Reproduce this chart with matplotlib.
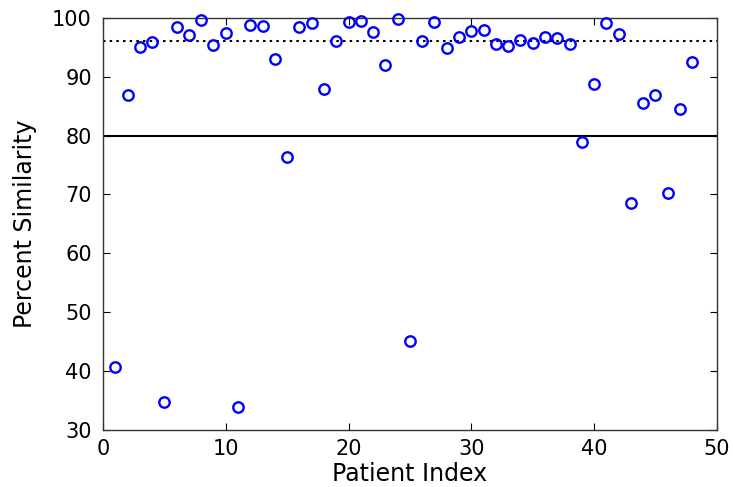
import matplotlib
matplotlib.use("Agg")
import matplotlib.pyplot as plt
import numpy as np

patient_index = list(range(1, 49))
similarity = [40.6, 86.9, 95.1, 95.9, 34.7, 98.5, 97.1, 99.7, 95.4, 97.4,
              33.8, 98.8, 98.6, 93.0, 76.4, 98.5, 99.1, 87.9, 96.1, 99.3,
              99.5, 97.6, 92.0, 99.8, 45.1, 96.1, 99.3, 94.9, 96.8, 97.8,
              98.0, 95.6, 95.2, 96.3, 95.7, 96.8, 96.6, 95.6, 78.9, 88.8,
              99.1, 97.3, 68.5, 85.5, 86.9, 70.2, 84.5, 92.5]
threshold_solid = 80
threshold_dotted = 96.1
xticks = [0, 10, 20, 30, 40, 50]
yticks = [30, 40, 50, 60, 70, 80, 90, 100]

plt.rcParams['font.family'] = ['DejaVu Sans']
fig = plt.figure(figsize=(7.33, 4.87), dpi=100)
ax = fig.add_axes([0.1405, 0.118, 0.8375, 0.845])
ax.plot(patient_index, similarity, linestyle='none', marker='o', markersize=7.5,
        markerfacecolor='none', markeredgecolor='#0000ff', markeredgewidth=1.7,
        clip_on=False, zorder=3)
ax.axhline(threshold_solid, color='black', linewidth=1.5)
ax.axhline(threshold_dotted, color='black', linewidth=1.5, linestyle=(0, (1.2, 2)))
ax.set_xlim(0, 50)
ax.set_ylim(30, 100)
ax.set_xticks(xticks)
ax.set_yticks(yticks)
ax.tick_params(direction='in', top=True, right=True, labelsize=15, length=5)
ax.tick_params(axis='x', pad=7)
ax.tick_params(axis='y', pad=8)
ax.set_xlabel('Patient Index', fontsize=17, labelpad=2)
ax.set_ylabel('Percent Similarity', fontsize=17, labelpad=11)
for s in ax.spines.values():
    s.set_linewidth(1.0)
    s.set_color('#333333')
fig.savefig('out.png', dpi=100)
